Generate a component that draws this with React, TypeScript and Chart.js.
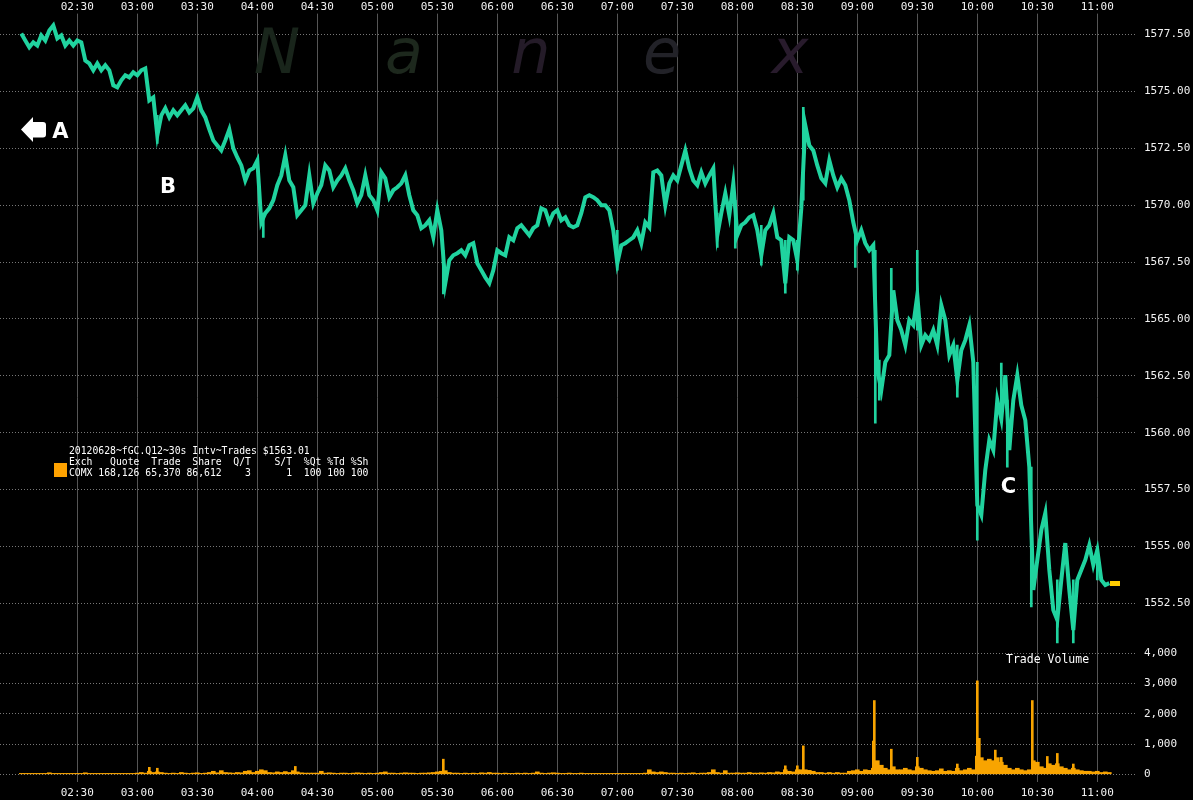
import React, { useEffect, useRef } from "react";
import { Chart, registerables } from "chart.js";

Chart.register(...registerables);

// ---------------- data ----------------
const TIME_TICKS = ["02:30", "03:00", "03:30", "04:00", "04:30", "05:00", "05:30", "06:00", "06:30", "07:00", "07:30", "08:00", "08:30", "09:00", "09:30", "10:00", "10:30", "11:00"];
const PRICE_TICKS = [1552.5, 1555, 1557.5, 1560, 1562.5, 1565, 1567.5, 1570, 1572.5, 1575, 1577.5];
const VOLUME_TICKS = [0, 1000, 2000, 3000, 4000];

// 2-minute samples of the fGC.Q12 trade price starting 02:02
const PRICE_START = "02:02";
const INTERVAL_MIN = 2;
const PRICES = [
  1577.55, 1577.24, 1576.94, 1577.16, 1577.02, 1577.46, 1577.24, 1577.68, 1577.9, 1577.33,
  1577.46, 1577.02, 1577.24, 1577.02, 1577.24, 1577.16, 1576.36, 1576.23, 1575.93, 1576.23,
  1575.93, 1576.15, 1575.93, 1575.27, 1575.18, 1575.49, 1575.71, 1575.62, 1575.84, 1575.71,
  1575.93, 1576.01, 1574.61, 1574.74, 1573.07, 1573.95, 1574.26, 1573.86, 1574.17, 1573.95,
  1574.17, 1574.39, 1574.08, 1574.26, 1574.74, 1574.17, 1573.86, 1573.33, 1572.85, 1572.63,
  1572.41, 1572.85, 1573.33, 1572.5, 1572.1, 1571.75, 1571.09, 1571.53, 1571.62, 1571.97,
  1569.25, 1569.65, 1569.86, 1570.22, 1570.88, 1571.31, 1572.19, 1571.09, 1570.79, 1569.56,
  1569.78, 1570.0, 1571.31, 1570.08, 1570.52, 1570.88, 1571.75, 1571.53, 1570.79, 1571.09,
  1571.31, 1571.62, 1571.09, 1570.66, 1570.08, 1570.44, 1571.31, 1570.44, 1570.22, 1569.78,
  1571.45, 1571.18, 1570.35, 1570.66, 1570.79, 1570.96, 1571.31, 1570.44, 1569.78, 1569.56,
  1568.99, 1569.12, 1569.34, 1568.59, 1569.78, 1568.9, 1566.57, 1567.58, 1567.8, 1567.89,
  1568.02, 1567.8, 1568.24, 1568.33, 1567.45, 1567.14, 1566.83, 1566.57, 1567.14, 1568.02,
  1567.89, 1567.8, 1568.59, 1568.46, 1568.99, 1569.12, 1568.9, 1568.68, 1568.99, 1569.12,
  1569.86, 1569.78, 1569.25, 1569.65, 1569.78, 1569.34, 1569.47, 1569.12, 1569.03, 1569.12,
  1569.65, 1570.35, 1570.44, 1570.35, 1570.22, 1570.0, 1570.0, 1569.78, 1568.9, 1567.45,
  1568.24, 1568.33, 1568.46, 1568.59, 1568.9, 1568.33, 1569.25, 1569.03, 1571.45, 1571.53,
  1571.31, 1570.0, 1570.96, 1571.31, 1571.09, 1571.75, 1572.41, 1571.62, 1571.09, 1570.88,
  1571.45, 1570.96, 1571.31, 1571.62, 1568.68, 1569.65, 1570.52, 1569.56, 1570.96, 1568.68,
  1569.12, 1569.25, 1569.47, 1569.56, 1568.9, 1567.8, 1568.9, 1569.12, 1569.65, 1568.59,
  1568.46, 1566.57, 1568.59, 1568.46, 1567.58, 1569.86, 1573.51, 1572.63, 1572.41, 1571.75,
  1571.18, 1570.96, 1571.97, 1571.31, 1570.79, 1571.18, 1570.88, 1570.22, 1569.25, 1568.46,
  1568.9, 1568.33, 1568.02, 1568.24, 1562.75, 1561.87, 1563.1, 1563.41, 1566.26, 1564.95,
  1564.51, 1563.85, 1564.95, 1564.73, 1566.04, 1563.85, 1564.29, 1564.07, 1564.51, 1563.85,
  1565.6, 1564.95, 1563.41, 1563.85, 1562.31, 1563.63, 1564.07, 1564.73, 1563.1, 1556.82,
  1556.38, 1558.36, 1559.68, 1559.24, 1561.43, 1560.6, 1562.53, 1559.24, 1561.43, 1562.53,
  1561.21, 1560.55, 1558.49, 1553.09, 1554.41, 1555.72, 1556.47, 1553.97, 1552.21, 1551.77,
  1553.53, 1555.15, 1553.09, 1551.33, 1553.53, 1553.97, 1554.41, 1555.06, 1554.19, 1554.85,
  1553.53, 1553.31, 1553.39,
];

// high/low wicks of the price where the 30s bars reach far
const RANGE_TIMES = ["03:10", "04:03", "05:33", "07:00", "07:50", "07:59", "08:12", "08:24", "08:30", "08:33", "08:59", "09:09", "09:11", "09:17", "09:30", "09:50", "10:00", "10:12", "10:15", "10:27", "10:40", "10:48", "11:00"];
const RANGE_LOWS = [1572.72, 1568.59, 1566.1, 1567.14, 1568.15, 1568.11, 1567.36, 1566.13, 1567.14, 1570.22, 1567.27, 1560.42, 1561.43, 1564.51, 1564.51, 1561.56, 1555.28, 1560.6, 1558.49, 1552.34, 1550.76, 1550.76, 1553.53];
const RANGE_HIGHS = [1573.95, 1569.65, 1568.02, 1568.9, 1569.65, 1570.22, 1569.12, 1568.46, 1568.46, 1574.3, 1568.9, 1568.02, 1563.19, 1567.23, 1568.02, 1563.85, 1563.1, 1563.06, 1561.43, 1558.49, 1553.53, 1553.53, 1554.98];

// trade volume per 2-minute sample (same times as PRICES)
const VOLUMES = [
  30, 30, 30, 30, 30, 30, 30, 50, 30, 30, 30, 30, 30, 30, 30, 30, 50, 30, 30, 30,
  30, 30, 30, 30, 30, 30, 30, 30, 30,
  40, 60, 40, 100, 60, 80, 60,
  40, 30, 40, 30, 60, 40, 30, 40, 50, 30, 40,
  60, 100, 50, 120, 60, 50, 40, 60, 50, 100, 120, 60, 100,
  150, 120, 60, 50, 80, 60, 90, 60, 120, 80, 50, 40, 40, 40, 40, 100, 40, 50,
  40, 30, 40, 40, 30, 40, 50, 40, 30, 40, 30,
  40, 60, 80, 40,
  40, 30, 40, 50, 40, 40, 30, 40, 40, 50,
  60, 80, 100, 120, 60, 40,
  40, 30, 40, 30, 40, 30, 50,
  40, 60, 40,
  40, 30, 40, 30, 30, 40, 30, 40, 30, 40,
  80, 40, 30, 40, 50, 40, 30, 30, 40, 30, 30, 40,
  30, 30, 30, 30, 30, 30, 30, 30, 30, 30, 30, 30, 30, 30, 30,
  40, 150, 80, 60, 80, 60, 40,
  40, 30, 40, 30, 40, 50, 30, 40,
  40, 60, 150, 60, 40, 120, 40, 40, 50, 40,
  40, 60, 40, 40, 50, 40, 60, 50,
  80, 60, 150, 100, 80, 150, 150, 150, 130, 100, 60,
  60, 40, 60, 40, 60, 40, 40,
  100, 120, 150, 100, 150, 130, 200,
  450, 300, 200, 150, 250, 150, 150, 200, 150, 120, 250, 200, 150, 120, 100, 120, 180, 100, 120, 100, 200, 120, 150, 200, 150,
  600, 550, 450, 500, 450, 550, 400, 300, 200, 150, 200, 150, 120, 150,
  450, 400, 250, 200, 350, 300, 350, 250, 200, 150, 200, 150,
  120, 100, 100, 80, 100, 60, 80, 60,
];

// single 30s volume spikes
const SPIKE_TIMES = ["03:06", "03:10", "04:19", "05:33", "08:24", "08:30", "08:33", "09:08", "09:08:30", "09:17", "09:30", "09:50", "10:00", "10:01", "10:09", "10:12", "10:27:30", "10:35", "10:40", "10:48"];
const SPIKE_VOLUMES = [230, 200, 260, 500, 280, 280, 940, 1100, 2440, 830, 560, 340, 3090, 1190, 800, 560, 2440, 590, 690, 340];

const LEGEND_LINES = [
  "20120628~fGC.Q12~30s Intv~Trades $1563.01",
  "Exch   Quote  Trade  Share  Q/T    S/T  %Qt %Td %Sh",
  "COMX 168,126 65,370 86,612    3      1  100 100 100",
];
const WATERMARK_LETTERS = ["N", "a", "n", "e", "x"];
const MARK_LABELS = ["A", "B", "C"];
const VOLUME_TITLE = "Trade Volume";

// ---------------- helpers ----------------
const toMin = (t: string) => {
  const [h, m, s] = t.split(":").map(Number);
  return h * 60 + m + (s || 0) / 60;
};
const fmtTime = (v: number) => {
  const h = Math.floor(v / 60);
  const m = Math.round(v - h * 60);
  return `${String(h).padStart(2, "0")}:${String(m).padStart(2, "0")}`;
};

const MONO = '"DejaVu Sans Mono", "Liberation Mono", monospace';
const GREEN = "#20d39f";
const ORANGE = "#f8a400";

// visible ranges of the axes
const X_MIN = 111.35;
const X_MAX = 679.85;
const P_MIN = 1550.666;
const P_MAX = 1578.422;
const V_MIN = -255;
const V_MAX = 4274;

const overlayPlugin = {
  id: "nanexOverlay",
  beforeDatasetsDraw(chart: any) {
    const ctx = chart.ctx as CanvasRenderingContext2D;
    ctx.save();
    ctx.font = 'italic 62px "DejaVu Sans"';
    ctx.textAlign = "center";
    ctx.textBaseline = "alphabetic";
    const xs = [277, 404, 531, 662, 790];
    const cols = ["#19251b", "#1d281d", "#241b28", "#222228", "#281b2c"];
    WATERMARK_LETTERS.forEach((l, i) => {
      ctx.fillStyle = cols[i];
      ctx.fillText(l, xs[i], 73);
    });
    ctx.restore();
  },
  afterDatasetsDraw(chart: any) {
    const ctx = chart.ctx as CanvasRenderingContext2D;
    const xs = chart.scales.x;
    const ys = chart.scales.y;
    ctx.save();
    // last price marker
    const lastIdx = PRICES.length - 1;
    const lx = xs.getPixelForValue(toMin(PRICE_START) + lastIdx * INTERVAL_MIN);
    const ly = ys.getPixelForValue(PRICES[lastIdx]);
    ctx.fillStyle = "#ffcc00";
    ctx.fillRect(Math.round(lx) + 1, Math.round(ly) - 2, 10, 5);

    // legend block
    ctx.fillStyle = "#ffffff";
    ctx.font = `9.75px ${MONO}`;
    ctx.textAlign = "left";
    ctx.textBaseline = "alphabetic";
    ctx.fillText(LEGEND_LINES[0], 69, 454);
    ctx.fillText(LEGEND_LINES[1], 69, 465);
    ctx.fillText(LEGEND_LINES[2], 69, 475.5);
    ctx.fillStyle = "#ffa200";
    ctx.fillRect(54, 463, 13, 14);

    // volume title
    ctx.fillStyle = "#ffffff";
    ctx.font = `11.5px ${MONO}`;
    ctx.fillText(VOLUME_TITLE, 1006, 663);

    // arrow
    ctx.fillStyle = "#ffffff";
    ctx.beginPath();
    ctx.moveTo(21, 129.5);
    ctx.lineTo(33, 117);
    ctx.lineTo(33, 122);
    ctx.lineTo(43, 122);
    ctx.quadraticCurveTo(46, 122, 46, 125);
    ctx.lineTo(46, 134.5);
    ctx.quadraticCurveTo(46, 137.5, 43, 137.5);
    ctx.lineTo(33, 137.5);
    ctx.lineTo(33, 142);
    ctx.closePath();
    ctx.fill();

    // A B C marks
    ctx.font = 'bold 21px "DejaVu Sans"';
    ctx.textAlign = "center";
    const mx = [60.5, 168, 1008.5];
    const my = [137.5, 192.5, 493];
    MARK_LABELS.forEach((l, i) => ctx.fillText(l, mx[i], my[i]));
    ctx.restore();
  },
};

export default function App() {
  const ref = useRef<HTMLCanvasElement | null>(null);

  useEffect(() => {
    document.body.style.margin = "0";
    document.body.style.background = "#000";
    const canvas = ref.current;
    if (!canvas) return;
    const t0 = toMin(PRICE_START);
    const priceData = PRICES.map((p, i) => ({ x: t0 + i * INTERVAL_MIN, y: p }));
    const volData = VOLUMES.map((v, i) => ({ x: t0 + i * INTERVAL_MIN, y: v }));
    const spikeData = SPIKE_TIMES.map((t, i) => ({ x: toMin(t), y: SPIKE_VOLUMES[i] }));
    const rangeData = RANGE_TIMES.map((t, i) => ({ x: toMin(t), y: [RANGE_LOWS[i], RANGE_HIGHS[i]] }));

    const tickFont = { family: MONO, size: 11 };
    const timeTicks = (s: any) => {
      s.ticks = TIME_TICKS.map((t) => ({ value: toMin(t) }));
    };

    const chart = new Chart(canvas, {
      type: "line",
      data: {
        datasets: [
          {
            type: "line",
            label: "Trades",
            data: priceData,
            xAxisID: "x",
            yAxisID: "y",
            borderColor: GREEN,
            borderWidth: 4,
            pointRadius: 0,
            tension: 0,
            order: 0,
          } as any,
          {
            type: "bar",
            label: "Range",
            data: rangeData,
            xAxisID: "x",
            yAxisID: "y",
            backgroundColor: GREEN,
            barThickness: 2,
            grouped: false,
            borderWidth: 0,
            order: 1,
          } as any,
          {
            type: "bar",
            label: "Volume",
            data: volData,
            xAxisID: "x",
            yAxisID: "yVol",
            backgroundColor: ORANGE,
            barThickness: 4,
            grouped: false,
            borderWidth: 0,
            order: 2,
          } as any,
          {
            type: "bar",
            label: "Volume spikes",
            data: spikeData,
            xAxisID: "x",
            yAxisID: "yVol",
            backgroundColor: ORANGE,
            barThickness: 2,
            grouped: false,
            borderWidth: 0,
            order: 3,
          } as any,
        ],
      },
      options: {
        responsive: false,
        maintainAspectRatio: false,
        devicePixelRatio: 1,
        animation: false,
        layout: { padding: 0 },
        plugins: { legend: { display: false }, tooltip: { enabled: false } },
        scales: {
          x: {
            type: "linear",
            position: "bottom",
            min: X_MIN,
            max: X_MAX,
            offset: false,
            afterBuildTicks: timeTicks,
            afterFit: (s: any) => {
              s.height = 18;
            },
            ticks: {
              callback: (v: any) => fmtTime(Number(v)),
              color: "#f2f2f2",
              font: tickFont,
              padding: 5,
              autoSkip: false,
              maxRotation: 0,
              minRotation: 0,
            },
            grid: { color: "#555555", lineWidth: 1, drawTicks: false, offset: false },
            border: { display: false },
          },
          xTop: {
            type: "linear",
            axis: "x",
            position: "top",
            min: X_MIN,
            max: X_MAX,
            offset: false,
            afterBuildTicks: timeTicks,
            afterFit: (s: any) => {
              s.height = 13;
            },
            ticks: {
              callback: (v: any) => fmtTime(Number(v)),
              color: "#f2f2f2",
              font: tickFont,
              padding: 0,
              autoSkip: false,
              maxRotation: 0,
              minRotation: 0,
            },
            grid: { display: false, drawTicks: false, offset: false },
            border: { display: false },
          },
          y: {
            type: "linear",
            position: "right",
            stack: "right",
            stackWeight: 632,
            weight: 0,
            min: P_MIN,
            max: P_MAX,
            afterBuildTicks: (s: any) => {
              s.ticks = PRICE_TICKS.map((v) => ({ value: v }));
            },
            afterFit: (s: any) => {
              s.width = 56;
            },
            ticks: {
              callback: (v: any) => Number(v).toFixed(2),
              color: "#f2f2f2",
              font: tickFont,
              padding: 7,
              autoSkip: false,
            },
            grid: { color: "#777777", lineWidth: 1, drawTicks: false },
            border: { display: false, dash: [1, 2] },
          },
          yVol: {
            type: "linear",
            position: "right",
            stack: "right",
            stackWeight: 137,
            weight: 1,
            min: V_MIN,
            max: V_MAX,
            afterBuildTicks: (s: any) => {
              s.ticks = VOLUME_TICKS.map((v) => ({ value: v }));
            },
            afterFit: (s: any) => {
              s.width = 56;
            },
            ticks: {
              callback: (v: any) => Number(v).toLocaleString("en-US"),
              color: "#f2f2f2",
              font: tickFont,
              padding: 7,
              autoSkip: false,
            },
            grid: { color: "#777777", lineWidth: 1, drawTicks: false },
            border: { display: false, dash: [1, 2] },
          },
        },
      } as any,
      plugins: [overlayPlugin],
    });
    return () => chart.destroy();
  }, []);

  return (
    <div style={{ width: 1193, height: 800, background: "#000", position: "relative" }}>
      <canvas ref={ref} width={1193} height={800} style={{ display: "block" }} />
    </div>
  );
}
